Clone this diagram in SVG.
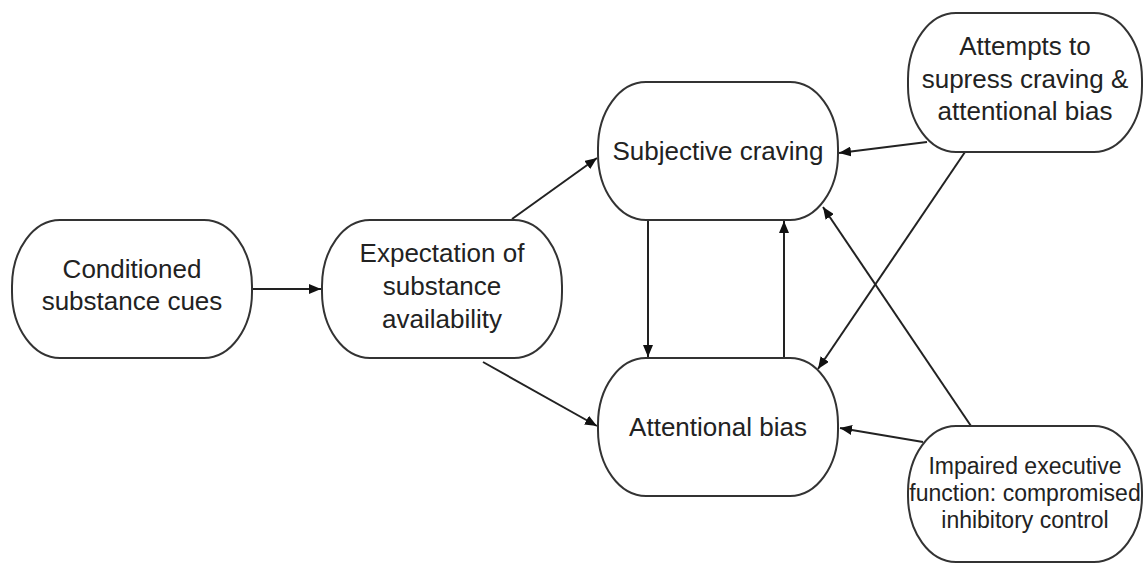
<svg xmlns="http://www.w3.org/2000/svg" width="1148" height="564" viewBox="0 0 1148 564">
<style>
.n{fill:#fff;stroke:#333;stroke-width:2}
.t{font-family:"Liberation Sans",Arial,sans-serif;font-size:26px;fill:#222;text-anchor:middle}
.s{font-size:23px}
.c{stroke:#222;stroke-width:2;fill:none;marker-end:url(#a)}
</style>
<defs>
<marker id="a" viewBox="0 0 12 10" refX="12" refY="5" markerWidth="12" markerHeight="10" markerUnits="userSpaceOnUse" orient="auto">
<path d="M0,0 L12,5 L0,10 z" fill="#111"/>
</marker>
</defs>
<rect width="1148" height="564" fill="#fff"/>
<g id="connectors">
<line class="c" x1="252" y1="289" x2="321" y2="289"/>
<line class="c" x1="512" y1="219" x2="597" y2="158"/>
<line class="c" x1="483" y1="362" x2="597" y2="426"/>
<line class="c" x1="648" y1="220" x2="648" y2="357"/>
<line class="c" x1="784" y1="358" x2="784" y2="221"/>
<line class="c" x1="927" y1="142" x2="839" y2="153"/>
<line class="c" x1="965" y1="152" x2="818" y2="369"/>
<line class="c" x1="971" y1="426" x2="823" y2="207"/>
<line class="c" x1="923" y1="442" x2="840" y2="428"/>
</g>
<g id="conditioned">
<rect class="n" x="12" y="220" width="240" height="138" rx="48" ry="66"/>
<text class="t" x="132" y="278">Conditioned</text>
<text class="t" x="132" y="310">substance cues</text>
</g>
<g id="expectation">
<rect class="n" x="322" y="220" width="240" height="138" rx="48" ry="66"/>
<text class="t" x="442" y="262">Expectation of</text>
<text class="t" x="442" y="295">substance</text>
<text class="t" x="442" y="328">availability</text>
</g>
<g id="subjective">
<rect class="n" x="598" y="82" width="240" height="138" rx="48" ry="66"/>
<text class="t" x="718" y="160">Subjective craving</text>
</g>
<g id="attentional">
<rect class="n" x="598" y="358" width="240" height="138" rx="48" ry="66"/>
<text class="t" x="718" y="436">Attentional bias</text>
</g>
<g id="attempts">
<rect class="n" x="908" y="13" width="234" height="139" rx="48" ry="66"/>
<text class="t" x="1025" y="55">Attempts to</text>
<text class="t" x="1025" y="88">supress craving &amp;</text>
<text class="t" x="1025" y="120">attentional bias</text>
</g>
<g id="impaired">
<rect class="n" x="908" y="426" width="234" height="136" rx="48" ry="66"/>
<text class="t s" x="1025" y="474">Impaired executive</text>
<text class="t s" x="1025" y="501">function: compromised</text>
<text class="t s" x="1025" y="528">inhibitory control</text>
</g>
</svg>
